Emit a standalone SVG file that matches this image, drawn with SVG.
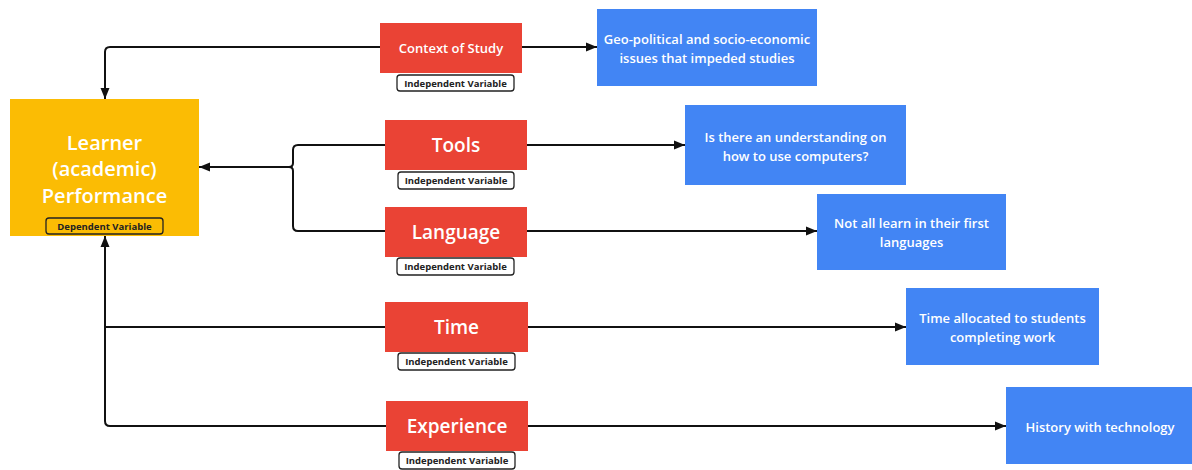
<svg xmlns="http://www.w3.org/2000/svg" width="1192" height="470" viewBox="0 0 1192 470">
<style>
.bg{fill:#ffffff}
.dep{fill:#FBBC04}
.iv{fill:#EA4335}
.out{fill:#4285F4}
.t{font-family:"Open Sans","Liberation Sans",sans-serif;font-weight:600;fill:#ffffff;text-anchor:middle;dominant-baseline:central}
.big{font-size:19px}
.mid{font-size:13px}
.badge{fill:#ffffff;stroke:#222222;stroke-width:1.3}
.badgeY{fill:#FBBC04;stroke:#222222;stroke-width:1.3}
.bt{font-family:"Open Sans","Liberation Sans",sans-serif;font-weight:700;font-size:9.5px;fill:#222222;text-anchor:middle;dominant-baseline:central}
.c{fill:none;stroke:#111111;stroke-width:2}
</style>
<defs>
<marker id="ah" markerUnits="userSpaceOnUse" markerWidth="12" markerHeight="10" refX="11" refY="5" orient="auto">
<path d="M0,0.5 L11,5 L0,9.5 z" fill="#111111"/>
</marker>
</defs>
<rect class="bg" x="0" y="0" width="1192" height="470"/>

<g id="connectors">
<path class="c" d="M380,47 H110 Q105,47 105,52 V99" marker-end="url(#ah)"/>
<path class="c" d="M521,47 H597" marker-end="url(#ah)"/>
<path class="c" d="M385,145 H298 Q293,145 293,150 V163 Q293,167 289,167"/>
<path class="c" d="M385,231 H298 Q293,231 293,226 V171 Q293,167 289,167"/>
<path class="c" d="M289,167 H199" marker-end="url(#ah)"/>
<path class="c" d="M527,145 H685" marker-end="url(#ah)"/>
<path class="c" d="M527,231 H817" marker-end="url(#ah)"/>
<path class="c" d="M385,327 H105"/>
<path class="c" d="M386,426 H110 Q105,426 105,421 V236" marker-end="url(#ah)"/>
<path class="c" d="M528,327 H906" marker-end="url(#ah)"/>
<path class="c" d="M528,426 H1006" marker-end="url(#ah)"/>
</g>

<g id="learner">
<rect class="dep" x="10" y="99" width="189" height="137"/>
<text class="t" x="104.5" y="142" font-size="20">Learner</text>
<text class="t" x="104.5" y="168" font-size="20">(academic)</text>
<text class="t" x="104.5" y="195" font-size="20">Performance</text>
<rect class="badgeY" x="46" y="218" width="117" height="16" rx="3"/>
<text class="bt" x="104.5" y="226">Dependent Variable</text>
</g>

<g id="context">
<rect class="iv" x="380" y="23" width="142" height="50"/>
<text class="t mid" x="451" y="48">Context of Study</text>
<rect class="badge" x="397" y="75" width="117" height="16" rx="3"/>
<text class="bt" x="455.5" y="83">Independent Variable</text>
</g>

<g id="tools">
<rect class="iv" x="385" y="120" width="142" height="50"/>
<text class="t big" x="456" y="145">Tools</text>
<rect class="badge" x="398" y="172" width="116" height="17" rx="3"/>
<text class="bt" x="456" y="180.5">Independent Variable</text>
</g>

<g id="language">
<rect class="iv" x="385" y="207" width="142" height="50"/>
<text class="t big" x="456" y="232">Language</text>
<rect class="badge" x="397" y="258" width="117" height="17" rx="3"/>
<text class="bt" x="455.5" y="266.5">Independent Variable</text>
</g>

<g id="time">
<rect class="iv" x="385" y="302" width="143" height="50"/>
<text class="t big" x="456.5" y="327">Time</text>
<rect class="badge" x="398" y="353" width="117" height="17" rx="3"/>
<text class="bt" x="456.5" y="361.5">Independent Variable</text>
</g>

<g id="experience">
<rect class="iv" x="386" y="401" width="142" height="50"/>
<text class="t big" x="457" y="426">Experience</text>
<rect class="badge" x="399" y="452" width="116" height="17" rx="3"/>
<text class="bt" x="457" y="460.5">Independent Variable</text>
</g>

<g id="geo">
<rect class="out" x="597" y="9" width="220" height="77"/>
<text class="t mid" x="707" y="39">Geo-political and socio-economic</text>
<text class="t mid" x="707" y="58">issues that impeded studies</text>
</g>

<g id="computers">
<rect class="out" x="685" y="105" width="221" height="80"/>
<text class="t mid" x="795.5" y="137">Is there an understanding on</text>
<text class="t mid" x="795.5" y="156">how to use computers?</text>
</g>

<g id="first-languages">
<rect class="out" x="817" y="194" width="189" height="76"/>
<text class="t mid" x="911.5" y="223">Not all learn in their first</text>
<text class="t mid" x="911.5" y="242">languages</text>
</g>

<g id="time-allocated">
<rect class="out" x="906" y="288" width="193" height="77"/>
<text class="t mid" x="1002.5" y="318">Time allocated to students</text>
<text class="t mid" x="1002.5" y="337">completing work</text>
</g>

<g id="history">
<rect class="out" x="1006" y="387" width="186" height="77"/>
<text class="t mid" x="1100" y="427">History with technology</text>
</g>
</svg>
